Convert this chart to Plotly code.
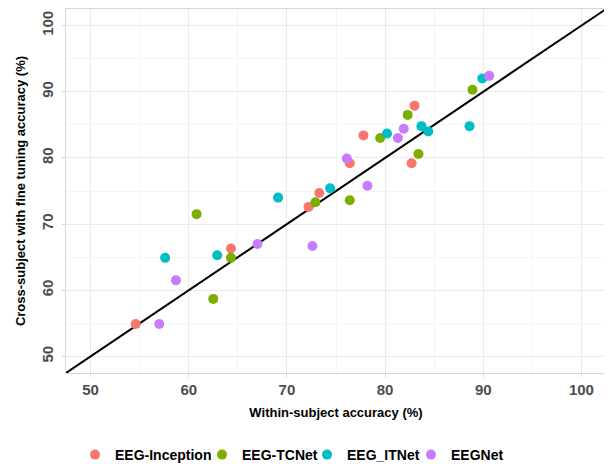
import plotly.graph_objects as go

series_names = ["EEG-Inception", "EEG-TCNet", "EEG_ITNet", "EEGNet"]
colors = ["#F8766D", "#7CAE00", "#00BFC4", "#C77CFF"]

inception_x = [54.6, 64.3, 72.2, 73.3, 76.4, 77.8, 82.7, 83.0]
inception_y = [54.9, 66.3, 72.6, 74.7, 79.2, 83.4, 79.2, 87.9]
tcnet_x = [60.8, 62.5, 64.3, 72.9, 76.4, 79.5, 82.3, 83.4, 88.9]
tcnet_y = [71.5, 58.7, 64.9, 73.3, 73.6, 83.0, 86.5, 80.6, 90.3]
itnet_x = [57.6, 62.9, 69.1, 74.4, 80.2, 83.7, 84.4, 88.6, 89.9]
itnet_y = [64.9, 65.3, 74.0, 75.4, 83.7, 84.8, 84.0, 84.8, 92.0]
eegnet_x = [57.0, 58.7, 67.0, 72.6, 76.1, 78.2, 81.3, 81.9, 90.6]
eegnet_y = [54.9, 61.5, 67.0, 66.7, 79.9, 75.8, 83.0, 84.4, 92.4]

identity = [40, 110]
ticks = [50, 60, 70, 80, 90, 100]
minor_ticks = [55, 65, 75, 85, 95]
axis_range = [47.5, 102.5]

W, H = 604, 456  # page body adds an 8px offset
legend_x_px = [67, 194, 299, 403]

fig = go.Figure()
fig.add_trace(go.Scatter(x=identity, y=identity, mode="lines",
                         line=dict(color="black", width=2), showlegend=False,
                         hoverinfo="skip"))
data = [(inception_x, inception_y), (tcnet_x, tcnet_y), (itnet_x, itnet_y), (eegnet_x, eegnet_y)]
legend_ids = ["legend", "legend2", "legend3", "legend4"]
for name, col, (xs, ys), lid in zip(series_names, colors, data, legend_ids):
    fig.add_trace(go.Scatter(x=xs, y=ys, mode="markers", name=name, legend=lid,
                             marker=dict(color=col, size=10, line=dict(width=0))))

font = "Liberation Sans, Arial, sans-serif"
axis_common = dict(
    range=axis_range, tickvals=ticks, ticktext=[str(t) for t in ticks],
    showgrid=True, gridcolor="#EBEBEB", gridwidth=1,
    minor=dict(tickvals=minor_ticks, showgrid=True, gridcolor="#F5F5F5", gridwidth=1),
    showline=True, mirror=True, linecolor="#D6D6D6", linewidth=1,
    ticks="outside", ticklen=3, tickcolor="#D6D6D6",
    tickfont=dict(family=font, size=15, color="#4D4D4D", weight="bold"),
    zeroline=False, automargin=False,
)
fig.update_xaxes(**axis_common,
                 title=dict(text="Within-subject accuracy (%)", standoff=10,
                            font=dict(family=font, size=13, color="black", weight="bold")))
fig.update_yaxes(**axis_common, tickangle=-90, ticklabelstandoff=3,
                 title=dict(text="Cross-subject with fine tuning accuracy (%)", standoff=10,
                            font=dict(family=font, size=13, color="black", weight="bold")))

legend_font = dict(family=font, size=14, color="black", weight="bold")
legend_layout = {}
for lid, px in zip(legend_ids, legend_x_px):
    legend_layout[lid] = dict(orientation="h", x=px / W, xanchor="left", xref="container",
                              y=9 / H, yanchor="middle", yref="container",
                              font=legend_font, itemwidth=30, bgcolor="rgba(0,0,0,0)")

fig.update_layout(
    width=W, height=H,
    margin=dict(l=58, r=6, t=1, b=91),
    plot_bgcolor="white", paper_bgcolor="white",
    **legend_layout,
)

fig.write_html("out.html")
